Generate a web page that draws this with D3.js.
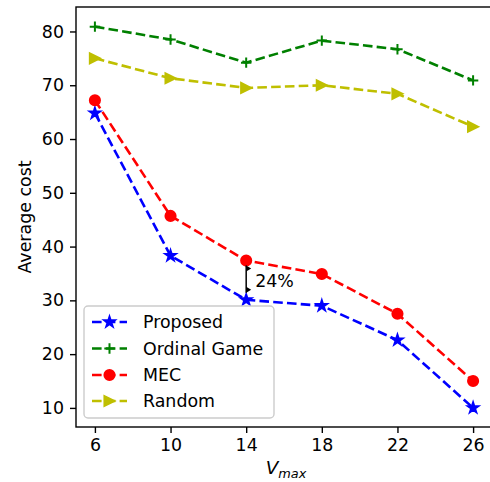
<!DOCTYPE html>
<html>
<head>
<meta charset="utf-8">
<script src="https://cdn.jsdelivr.net/npm/d3@7/dist/d3.min.js"></script>
<style>
  html, body { margin: 0; padding: 0; background: #fff; }
  svg { display: block; }
  text { font-family: "DejaVu Sans", sans-serif; }
</style>
</head>
<body>
<svg id="chart" width="490" height="482"></svg>
<script>
// ---- data ----
const vmax = [6, 10, 14, 18, 22, 26];
const proposed = [64.8, 38.3, 30.1, 29.0, 22.6, 10.0];
const ordinalGame = [80.9, 78.5, 74.2, 78.3, 76.7, 70.9];
const mec = [67.2, 45.7, 37.4, 34.9, 27.5, 15.0];
const randomS = [75.0, 71.3, 69.5, 70.0, 68.4, 62.3];
const seriesNames = ["Proposed", "Ordinal Game", "MEC", "Random"];
const xTicks = [6, 10, 14, 18, 22, 26];
const yTicks = [10, 20, 30, 40, 50, 60, 70, 80];
const annotation = { x: 14, from: 37.4, to: 30.1, label: "24%" };

// ---- layout ----
const svg = d3.select("#chart");
const L = 76, T = 7, R = 492, B = 427;
const fs = 17.4;
const x = d3.scaleLinear().domain([5, 27]).range([L, R]);
const y = d3.scaleLinear().domain([6.45, 84.55]).range([B, T]);

const styles = [
  { color: "#0000ff", marker: "star" },
  { color: "#008000", marker: "plus" },
  { color: "#ff0000", marker: "circle" },
  { color: "#bfbf00", marker: "tri" }
];
const allSeries = [proposed, ordinalGame, mec, randomS];

function starPath(r) {
  const ri = r * 0.381966;
  let p = [];
  for (let i = 0; i < 10; i++) {
    const a = -Math.PI / 2 + i * Math.PI / 5;
    const rr = i % 2 === 0 ? r : ri;
    p.push([rr * Math.cos(a), rr * Math.sin(a)]);
  }
  return "M" + p.map(d => d[0].toFixed(2) + "," + d[1].toFixed(2)).join("L") + "Z";
}

function drawMarker(g, type, cx, cy, color) {
  const ms = 10.4, h = ms / 2;
  if (type === "circle") {
    g.append("circle").attr("cx", cx).attr("cy", cy).attr("r", h)
      .attr("fill", color).attr("stroke", color).attr("stroke-width", 1.74);
  } else if (type === "star") {
    g.append("path").attr("d", starPath(h + 0.6)).attr("transform", `translate(${cx},${cy})`)
      .attr("fill", color).attr("stroke", color).attr("stroke-width", 1.74).attr("stroke-linejoin", "miter");
  } else if (type === "plus") {
    g.append("path").attr("d", `M${cx - h},${cy}H${cx + h}M${cx},${cy - h}V${cy + h}`)
      .attr("stroke", color).attr("stroke-width", 2).attr("fill", "none");
  } else if (type === "tri") {
    g.append("path").attr("d", `M${cx + h},${cy}L${cx - h},${cy - h}L${cx - h},${cy + h}Z`)
      .attr("fill", color).attr("stroke", color).attr("stroke-width", 1.74).attr("stroke-linejoin", "miter");
  }
}

// clip
svg.append("defs").append("clipPath").attr("id", "clip")
  .append("rect").attr("x", L).attr("y", T).attr("width", R - L).attr("height", B - T);

const plot = svg.append("g").attr("clip-path", "url(#clip)");
const line = d3.line().x((d, i) => x(vmax[i])).y(d => y(d));

allSeries.forEach((s, k) => {
  const st = styles[k];
  plot.append("path").datum(s).attr("d", line)
    .attr("fill", "none").attr("stroke", st.color).attr("stroke-width", 2.6)
    .attr("stroke-dasharray", "9.6,4.2");
  s.forEach((v, i) => drawMarker(plot, st.marker, x(vmax[i]), y(v), st.color));
});

// annotation arrow
const ax = x(annotation.x);
const ay1 = y(annotation.from) + 5, ay2 = y(annotation.to) - 7;
const ag = svg.append("g");
ag.append("line").attr("x1", ax).attr("x2", ax).attr("y1", ay1).attr("y2", ay2)
  .attr("stroke", "#000").attr("stroke-width", 1.5);
ag.append("path").attr("d", `M${ax},${ay1}L${ax + 5},${ay1 + 3}L${ax},${ay1 + 6}Z`).attr("fill", "#000");
ag.append("path").attr("d", `M${ax},${ay2 - 6}L${ax + 5},${ay2 - 3}L${ax},${ay2}Z`).attr("fill", "#000");
ag.append("text").attr("x", ax + 9).attr("y", (y(annotation.from) + y(annotation.to)) / 2 + 7)
  .attr("font-size", fs).attr("fill", "#000").text(annotation.label);

// axes
const xAxis = d3.axisBottom(x).tickValues(xTicks).tickSize(6).tickPadding(6);
const yAxis = d3.axisLeft(y).tickValues(yTicks).tickSize(6).tickPadding(6);
const gx = svg.append("g").attr("transform", `translate(0,${B})`).call(xAxis);
const gy = svg.append("g").attr("transform", `translate(${L},0)`).call(yAxis);
[gx, gy].forEach(g => {
  g.select(".domain").remove();
  g.selectAll(".tick line").attr("stroke", "#000").attr("stroke-width", 1.4);
  g.selectAll(".tick text").attr("font-size", fs).attr("fill", "#000")
    .attr("font-family", "DejaVu Sans, sans-serif");
});

// spines
svg.append("rect").attr("x", L).attr("y", T).attr("width", R - L).attr("height", B - T)
  .attr("fill", "none").attr("stroke", "#000").attr("stroke-width", 1.4);

// axis labels
svg.append("text").attr("transform", `translate(31,${(T + B) / 2}) rotate(-90)`)
  .attr("text-anchor", "middle").attr("font-size", fs).attr("fill", "#000").text("Average cost");
const xl = svg.append("text").attr("x", 286).attr("y", 474).attr("text-anchor", "middle")
  .attr("font-family", "DejaVu Serif, serif").attr("font-style", "italic")
  .attr("font-size", fs + 1).attr("fill", "#000");
xl.append("tspan").text("V");
xl.append("tspan").attr("font-size", (fs + 1) * 0.7).attr("dy", 4).text("max");

// legend
const lg = svg.append("g");
lg.append("rect").attr("x", 84).attr("y", 306).attr("width", 190).attr("height", 112)
  .attr("rx", 4).attr("fill", "#fff").attr("fill-opacity", 0.8)
  .attr("stroke", "#cccccc").attr("stroke-width", 1.4);
const rowY = [322, 348.5, 375, 401];
seriesNames.forEach((name, k) => {
  const st = styles[k], cy = rowY[k];
  lg.append("line").attr("x1", 92).attr("x2", 127).attr("y1", cy).attr("y2", cy)
    .attr("stroke", st.color).attr("stroke-width", 2.6).attr("stroke-dasharray", "9.6,4.2");
  drawMarker(lg, st.marker, 109.5, cy, st.color);
  lg.append("text").attr("x", 143).attr("y", cy + 6.3).attr("font-size", fs)
    .attr("fill", "#000").text(name);
});
</script>
</body>
</html>
